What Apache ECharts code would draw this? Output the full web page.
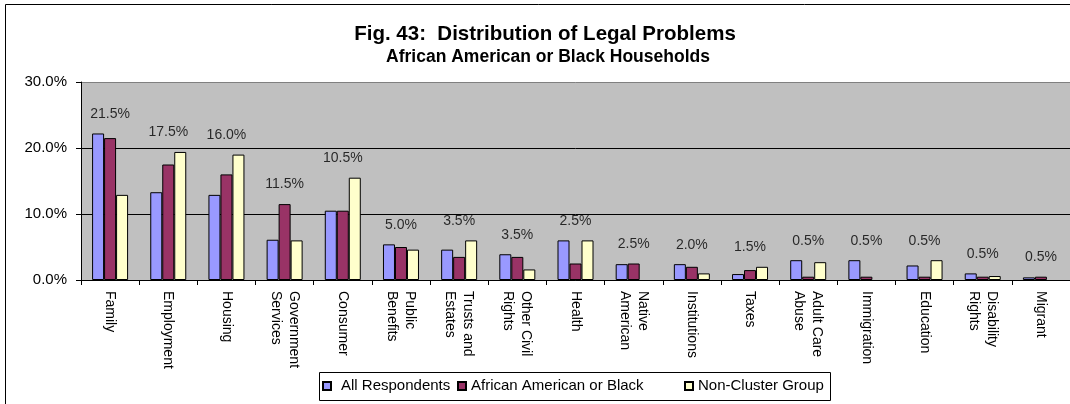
<!DOCTYPE html>
<html>
<head>
<meta charset="utf-8">
<script src="https://cdn.jsdelivr.net/npm/echarts@6/dist/echarts.min.js"></script>
<style>
  html, body { margin: 0; padding: 0; background: #fff; }
  #chart { width: 1070px; height: 404px; }
</style>
</head>
<body>
<div id="chart"></div>
<script>
// Problem areas (x axis)
const categories = [
  'Family', 'Employment', 'Housing', 'Government\nServices', 'Consumer',
  'Public\nBenefits', 'Trusts and\nEstates', 'Other Civil\nRights', 'Health',
  'Native\nAmerican', 'Institutions', 'Taxes', 'Adult Care\nAbuse',
  'Immigration', 'Education', 'Disability\nRights', 'Migrant'
];

// Share of reported legal problems, in percent
const allRespondents = [22.2, 13.3, 12.9, 6.1, 10.5, 5.4, 4.6, 3.9, 6.0, 2.4, 2.4, 0.9, 3.0, 3.0, 2.2, 1.0, 0.4];
const africanAmerican = [21.5, 17.5, 16.0, 11.5, 10.5, 5.0, 3.5, 3.5, 2.5, 2.5, 2.0, 1.5, 0.5, 0.5, 0.5, 0.5, 0.5];
const nonCluster = [12.9, 19.4, 19.0, 6.0, 15.5, 4.6, 6.0, 1.6, 6.0, null, 1.0, 2.0, 2.7, null, 3.0, 0.6, null];

const seriesNames = ['All Respondents', 'African American or Black', 'Non-Cluster Group'];
const yTicks = [0, 10, 20, 30];

const FONT = '"Liberation Sans", Arial, Helvetica, sans-serif';

// value labels sit above the tallest bar of each group
const labelAnchor = categories.map((_, i) =>
  Math.max(allRespondents[i] || 0, africanAmerican[i] || 0, nonCluster[i] || 0));

const barStyle = (color) => ({ color: color, borderColor: '#000', borderWidth: 1 });

const chart = echarts.init(document.getElementById('chart'), null, { renderer: 'canvas' });

const legendBase = {
  orient: 'horizontal',
  top: 378,
  padding: 0,
  icon: 'rect',
  itemWidth: 8,
  itemHeight: 8,
  selectedMode: false,
  textStyle: { fontFamily: FONT, fontSize: 15, color: '#000', lineHeight: 16 }
};

chart.setOption({
  animation: false,
  backgroundColor: '#fff',
  textStyle: { fontFamily: FONT },
  graphic: [
    { type: 'rect', z: -10, shape: { x: 5.5, y: 4.5, width: 1200, height: 600 },
      style: { fill: '#fff', stroke: '#000', lineWidth: 1 } },
    { type: 'rect', z: -5, shape: { x: 319.5, y: 372.5, width: 511, height: 28 },
      style: { fill: '#fff', stroke: '#000', lineWidth: 1 } },
    { type: 'text', x: 545, y: 34, style: {
        text: 'Fig. 43:  Distribution of Legal Problems', font: 'bold 20.5px ' + FONT,
        fill: '#000', textAlign: 'center', textVerticalAlign: 'middle' } },
    { type: 'text', x: 548, y: 57, style: {
        text: 'African American or Black Households', font: 'bold 17.5px ' + FONT,
        fill: '#000', textAlign: 'center', textVerticalAlign: 'middle' } }
  ],
  legend: [
    Object.assign({}, legendBase, { left: 322, data: [seriesNames[0]],
      textStyle: Object.assign({}, legendBase.textStyle, { padding: [0, 0, 0, 5] }) }),
    Object.assign({}, legendBase, { left: 457, data: [seriesNames[1]] }),
    Object.assign({}, legendBase, { left: 684, data: [seriesNames[2]] })
  ],
  grid: {
    left: 81, top: 82, width: 991, height: 198,
    show: true, backgroundColor: '#C0C0C0', borderWidth: 0
  },
  xAxis: {
    type: 'category',
    data: categories,
    boundaryGap: true,
    axisLine: { show: true, lineStyle: { color: '#000', width: 1 } },
    axisTick: { show: true, length: 5, interval: 0, lineStyle: { color: '#000' } },
    axisLabel: {
      interval: 0, rotate: -90, margin: 11, fontSize: 14, lineHeight: 18,
      color: '#000', fontFamily: FONT
    },
    splitLine: { show: false }
  },
  yAxis: {
    type: 'value',
    min: yTicks[0], max: yTicks[yTicks.length - 1], interval: 10,
    axisLine: { show: true, lineStyle: { color: '#000', width: 1 } },
    axisTick: { show: true, length: 5, lineStyle: { color: '#000' } },
    axisLabel: {
      margin: 14, fontSize: 15, color: '#000', fontFamily: FONT,
      formatter: (v) => v.toFixed(1) + '%'
    },
    splitLine: { show: true, lineStyle: { color: ['#000', '#000', '#000', '#808080'], width: 1 } }
  },
  series: [
    { name: seriesNames[0], type: 'bar', data: allRespondents, barWidth: 12, barGap: '0%',
      itemStyle: barStyle('#9999FF') },
    { name: seriesNames[1], type: 'bar', data: africanAmerican, barWidth: 12, barGap: '0%',
      itemStyle: barStyle('#993366') },
    { name: seriesNames[2], type: 'bar', data: nonCluster, barWidth: 12, barGap: '0%',
      itemStyle: barStyle('#FFFFCC') },
    {
      name: 'labels', type: 'scatter', data: labelAnchor, symbolSize: 1, silent: true,
      itemStyle: { color: 'rgba(0,0,0,0)' }, z: 5,
      label: {
        show: true, position: 'top', distance: 12, fontSize: 14, color: '#000',
        fontFamily: FONT,
        formatter: (p) => africanAmerican[p.dataIndex].toFixed(1) + '%'
      }
    }
  ]
});
</script>
</body>
</html>
